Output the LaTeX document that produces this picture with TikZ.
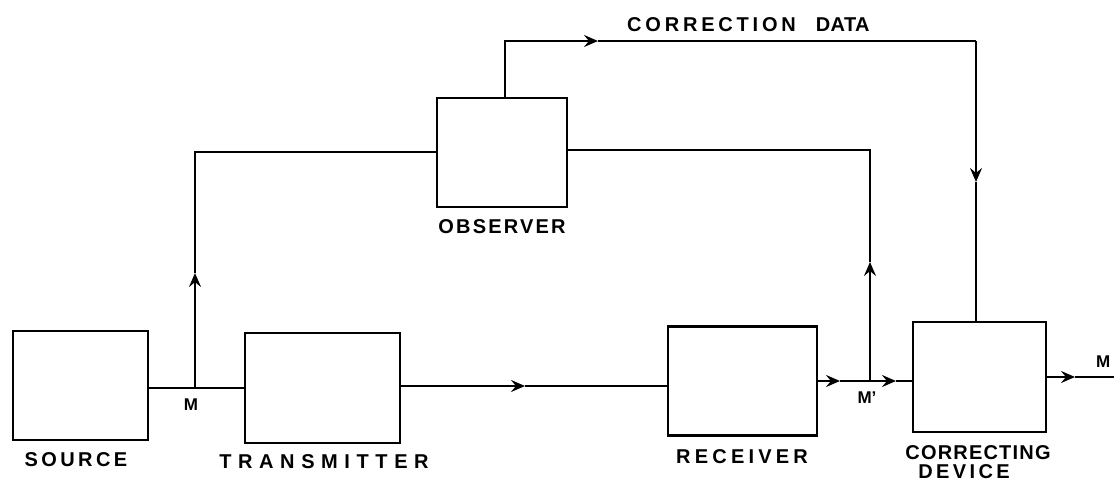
\documentclass[tikz,border=0pt]{standalone}
\usepackage{fontspec}
\setmainfont{Liberation Sans}
\usetikzlibrary{arrows.meta}
% letter-spaced caption text
\newcommand\spaced[2]{{\addfontfeatures{LetterSpace=#1}#2}}
\begin{document}
\begin{tikzpicture}[x=1pt,y=-1pt,
  block/.style={draw,line width=2.8pt,inner sep=0pt},
  wire/.style={line width=2.4pt},
  flow/.style={wire,-{Stealth[length=14pt,width=12pt,inset=5pt]}},
  caption/.style={inner sep=0pt,font=\fontsize{20}{22}\selectfont\bfseries},
  signal/.style={inner sep=0pt,font=\fontsize{17}{18}\selectfont\bfseries}]
\useasboundingbox (0,0) rectangle (1114,482);
% blocks
\node[block,minimum width=135pt,minimum height=109pt] (src) at (80.5,385.5) {};
\node[block,minimum width=155pt,minimum height=110pt] (tx)  at (322.5,388) {};
\node[block,minimum width=149pt,minimum height=109pt] (rx)  at (742.5,381) {};
\node[block,minimum width=133pt,minimum height=110pt] (cd)  at (979.5,377) {};
\node[block,minimum width=130pt,minimum height=109pt] (obs) at (502,152.5) {};
% block captions
\node[caption] (srcl) at (76,460) {\spaced{17}{SOURCE}};
\node[caption] (txl)  at (324,462) {\spaced{33}{TRANSMITTER}};
\node[caption] (rxl)  at (742,457) {\spaced{21}{RECEIVER}};
\node[caption] (cdl)  at (978,453) {\spaced{6}{CORRECTING}};
\node[caption] (cdl2) at (964,472) {\spaced{17}{DEVICE}};
\node[caption] (obsl) at (502,227) {\spaced{11}{OBSERVER}};
\node[caption,anchor=west] (cdata) at (627,25) {\spaced{19}{CORRECTION}\hspace{20pt}\spaced{2}{DATA}};
% junctions and bends
\coordinate (m)   at (195,388);
\coordinate (mup) at (195,273);
\coordinate (mtop) at (195,152);
\coordinate (mp)  at (870,381);
\coordinate (mpup) at (870,262);
\coordinate (otr) at (870,150);
\coordinate (ctop) at (505,41);
\coordinate (carr) at (598,41);
\coordinate (cright) at (976,41);
\coordinate (cdown) at (976,182);
\coordinate (a1) at (525,386);
\coordinate (a2) at (840,381);
\coordinate (a3) at (896,381);
\coordinate (a4) at (1075,377);
\coordinate (oend) at (1114,377);
% signal labels
\node[signal] (ml)  at (191,405) {M};
\node[signal] (mpl) at (867,398) {M'};
\node[signal,anchor=west] (mout) at (1096,362) {M};
% main path
\draw[wire] (src.east |- m) -- (m) -- (tx.west |- m);
\draw[flow] (tx.east |- a1) -- (a1);
\draw[wire] (a1) -- (rx.west |- a1);
\draw[flow] (rx.east |- a2) -- (a2);
\draw[wire] (a2) -- (mp);
\draw[flow] (mp) -- (a3);
\draw[wire] (a3) -- (cd.west |- a3);
\draw[flow] (cd.east |- a4) -- (a4);
\draw[wire] (a4) -- (oend);
% tap to the observer
\draw[flow] (m) -- (mup);
\draw[wire] (mup) -- (mtop) -- (obs.west |- mtop);
% tap at the receiver output
\draw[flow] (mp) -- (mpup);
\draw[wire] (mpup) -- (otr) -- (obs.east |- otr);
% correction data
\draw[flow] (obs.north -| ctop) -- (ctop) -- (carr);
\draw[wire] (carr) -- (cright);
\draw[flow] (cright) -- (cdown);
\draw[wire] (cdown) -- (cd.north -| cdown);
\end{tikzpicture}
\end{document}
